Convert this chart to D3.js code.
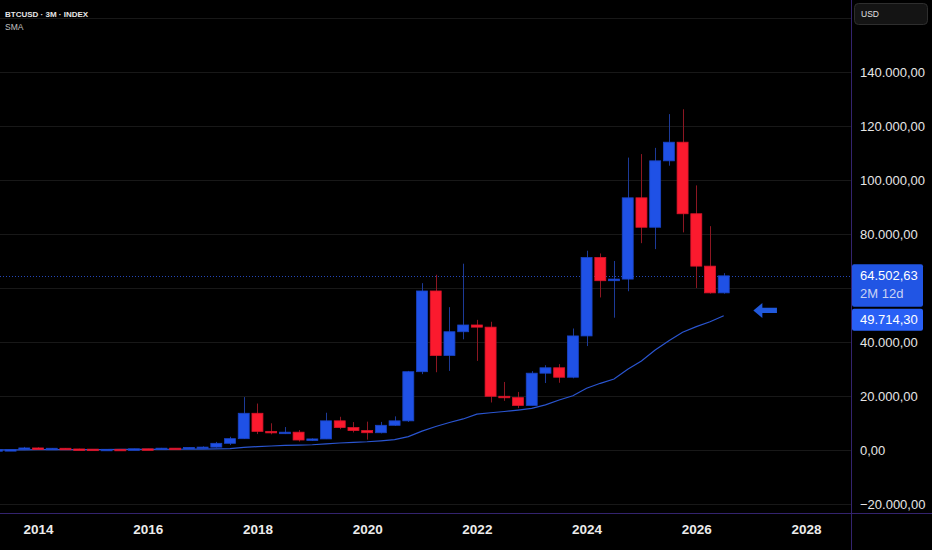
<!DOCTYPE html>
<html lang="en">
<head>
<meta charset="utf-8">
<title>BTCUSD 3M</title>
<script src="https://cdn.jsdelivr.net/npm/d3@7"></script>
<style>
  html, body { margin: 0; padding: 0; background: #000; }
  svg { display: block; font-family: "Liberation Sans", Arial, sans-serif; }
</style>
</head>
<body>
<script>
// quarterly candles
var quarters = [
  "2013-Q2","2013-Q3","2013-Q4",
  "2014-Q1","2014-Q2","2014-Q3","2014-Q4",
  "2015-Q1","2015-Q2","2015-Q3","2015-Q4",
  "2016-Q1","2016-Q2","2016-Q3","2016-Q4",
  "2017-Q1","2017-Q2","2017-Q3","2017-Q4",
  "2018-Q1","2018-Q2","2018-Q3","2018-Q4",
  "2019-Q1","2019-Q2","2019-Q3","2019-Q4",
  "2020-Q1","2020-Q2","2020-Q3","2020-Q4",
  "2021-Q1","2021-Q2","2021-Q3","2021-Q4",
  "2022-Q1","2022-Q2","2022-Q3","2022-Q4",
  "2023-Q1","2023-Q2","2023-Q3","2023-Q4",
  "2024-Q1","2024-Q2","2024-Q3","2024-Q4",
  "2025-Q1","2025-Q2","2025-Q3","2025-Q4",
  "2026-Q1","2026-Q2","2026-Q3"
]
var opens = [
  94, 97, 141,
  757, 457, 640, 386,
  320, 244, 263, 236,
  430, 416, 673, 609,
  963, 1071, 2480, 4200,
  13600, 6900, 6400, 6600,
  3700, 4100, 10800, 8300,
  7200, 6400, 9150, 10800,
  29000, 58900, 35000, 43800,
  46300, 45500, 19900, 19400,
  16500, 28450, 30450, 26950,
  42250, 71300, 62700, 63300,
  93400, 82500, 107100, 114000,
  87500, 68100, 58200
]
var highs = [
  266, 140, 1150,
  1000, 680, 660, 480,
  320, 266, 318, 504,
  465, 780, 705, 980,
  1350, 3000, 4900, 19600,
  17200, 9900, 8500, 7400,
  4300, 13800, 12300, 10350,
  10500, 10400, 12450, 29300,
  61800, 64900, 52900, 69000,
  48200, 47500, 25200, 21500,
  29200, 31400, 31800, 45000,
  73800, 72800, 70000, 108300,
  109600, 111900, 124400, 126200,
  98000, 82900, 65500
]
var lows = [
  68, 65, 118,
  410, 340, 350, 275,
  165, 216, 198, 236,
  350, 415, 470, 605,
  750, 900, 1830, 4100,
  5900, 5800, 5900, 3150,
  3350, 4050, 7700, 6500,
  3850, 6150, 8900, 10400,
  28100, 28800, 29300, 41000,
  33000, 17600, 18200, 15500,
  16500, 24800, 24900, 26550,
  38500, 56500, 49000, 58800,
  76600, 74400, 105300, 80600,
  60000, 57900, 57900
]
var closes = [
  97, 141, 757,
  457, 640, 386, 320,
  244, 263, 236, 430,
  416, 673, 609, 963,
  1071, 2480, 4200, 13600,
  6900, 6400, 6600, 3700,
  4100, 10800, 8300, 7200,
  6400, 9150, 10800, 29000,
  58900, 35000, 43800, 46300,
  45500, 19900, 19400, 16500,
  28450, 30450, 26950, 42250,
  71300, 62700, 63300, 93400,
  82500, 107100, 114000, 87500,
  68100, 58200, 64502.63
]
// SMA line as drawn
var sma = [
  40, 50, 80,
  110, 130, 150, 165,
  175, 185, 195, 215,
  230, 250, 270, 300,
  330, 400, 520, 1000,
  1250, 1480, 1700, 1830,
  1950, 2300, 2600, 2850,
  3050, 3400, 3850, 4950,
  7000, 8700, 10200, 11500,
  13300, 13800, 14250, 14800,
  15400, 16700, 18500, 20100,
  22850, 24700, 26300, 29900,
  33000, 37000, 40500, 43600,
  45700, 47500, 49714.30
]
var priceTicks = [-20000, 0, 20000, 40000, 60000, 80000, 100000, 120000, 140000, 160000]
// 60k sits under the last-price label, 160k under the currency button
var priceLabels = [-20000, 0, 20000, 40000, 80000, 100000, 120000, 140000]
var yearTicks = [2014, 2016, 2018, 2020, 2022, 2024, 2026, 2028]
var countdown = "2M 12d"
var arrowAnno = { tail: 2027.47, tip: 2027.04, value: 51700 }

var W = 932, H = 550
var plotR = 851, plotB = 513

var upColor = "#1f51e6", downColor = "#fb1a2e"
var upWick = "#1c3a98", downWick = "#8c1722"

var deLocale = d3.formatLocale({ decimal: ",", thousands: ".", grouping: [3], currency: ["", ""] })
var priceFmt = deLocale.format(",.2f")

var bars = quarters.map(function (q, i) {
  return {
    t: +q.slice(0, 4) + (+q.slice(6) - 1) / 4,
    o: opens[i], h: highs[i], l: lows[i], c: closes[i], s: sma[i]
  }
})

var x = d3.scaleLinear().domain([2013.307, 2028.82]).range([0, plotR])
var y = d3.scaleLinear().domain([-23333, 166667]).range([plotB, 0])
var bw = (x(0.25) - x(0)) * 0.8

var svg = d3.select("body").append("svg")
  .attr("width", W)
  .attr("height", H)

svg.append("rect").attr("width", W).attr("height", H).attr("fill", "#000")

svg.append("clipPath").attr("id", "plot")
  .append("rect").attr("width", plotR).attr("height", plotB)

// horizontal grid
svg.append("g").selectAll("line")
  .data(priceTicks)
  .enter().append("line")
  .attr("x1", 0).attr("x2", plotR)
  .attr("y1", function (d) { return Math.round(y(d)) + 0.5 })
  .attr("y2", function (d) { return Math.round(y(d)) + 0.5 })
  .attr("stroke", "#181818")

var plot = svg.append("g").attr("clip-path", "url(#plot)")

var last = bars[bars.length - 1]

// last price dotted line
plot.append("line")
  .attr("x1", 0).attr("x2", plotR)
  .attr("y1", Math.round(y(last.c)) + 0.5)
  .attr("y2", Math.round(y(last.c)) + 0.5)
  .attr("stroke", "#2447b8")
  .attr("stroke-dasharray", "1,2")

// SMA
plot.append("path")
  .datum(bars)
  .attr("fill", "none")
  .attr("stroke", "#2a55d0")
  .attr("stroke-width", 1.2)
  .attr("d", d3.line().x(function (d) { return x(d.t) }).y(function (d) { return y(d.s) }))

// wicks
plot.selectAll("line.wick")
  .data(bars)
  .enter().append("line")
  .attr("class", "wick")
  .attr("x1", function (d) { return Math.round(x(d.t)) + 0.5 })
  .attr("x2", function (d) { return Math.round(x(d.t)) + 0.5 })
  .attr("y1", function (d) { return y(d.h) })
  .attr("y2", function (d) { return y(d.l) })
  .attr("stroke", function (d) { return d.c >= d.o ? upWick : downWick })

// bodies
plot.selectAll("rect.body")
  .data(bars)
  .enter().append("rect")
  .attr("class", "body")
  .attr("x", function (d) { return x(d.t) - bw / 2 })
  .attr("width", bw)
  .attr("y", function (d) { return y(Math.max(d.o, d.c)) })
  .attr("height", function (d) { return Math.max(1.5, Math.abs(y(d.o) - y(d.c))) })
  .attr("fill", function (d) { return d.c >= d.o ? upColor : downColor })
  .attr("stroke", function (d) { return d.c >= d.o ? "#1a44c4" : "#d9142a" })
  .attr("stroke-width", 0.8)

// arrow annotation
var ax0 = x(arrowAnno.tip), ax1 = x(arrowAnno.tail), ay = y(arrowAnno.value)
svg.append("polygon")
  .attr("points", [
    [ax0, ay], [ax0 + 9, ay - 7.5], [ax0 + 9, ay - 2.6], [ax1, ay - 2.6],
    [ax1, ay + 2.6], [ax0 + 9, ay + 2.6], [ax0 + 9, ay + 7.5]
  ].map(function (p) { return p.join(",") }).join(" "))
  .attr("fill", "#2159dc")

// frame
svg.append("line").attr("x1", plotR + 0.5).attr("x2", plotR + 0.5).attr("y1", 0).attr("y2", H)
  .attr("stroke", "#33236e")
svg.append("line").attr("x1", 0).attr("x2", W).attr("y1", plotB + 0.5).attr("y2", plotB + 0.5)
  .attr("stroke", "#33236e")

// price axis
var yAxis = svg.append("g")
  .attr("transform", "translate(" + plotR + ",0)")
  .call(d3.axisRight(y)
    .tickValues(priceLabels)
    .tickFormat(priceFmt)
    .tickSize(0)
    .tickPadding(9))
yAxis.select(".domain").remove()
yAxis.selectAll("text")
  .attr("fill", "#e6e6e6")
  .style("font-size", "13px")
  .style("font-family", "'Liberation Sans', Arial, sans-serif")

// time axis
var xAxis = svg.append("g")
  .attr("transform", "translate(0," + plotB + ")")
  .call(d3.axisBottom(x)
    .tickValues(yearTicks)
    .tickFormat(d3.format("d"))
    .tickSize(0)
    .tickPadding(11))
xAxis.select(".domain").remove()
xAxis.selectAll("text")
  .attr("fill", "#ececec")
  .style("font-size", "13.5px")
  .style("font-weight", "bold")
  .style("font-family", "'Liberation Sans', Arial, sans-serif")

// price labels on the axis
var boxX = plotR + 1, boxW = 71
var pTop = y(last.c) - 11.5
svg.append("rect").attr("x", boxX).attr("y", pTop).attr("width", boxW).attr("height", 42.5)
  .attr("rx", 2).attr("fill", "#2155e4")
svg.append("text").attr("x", boxX + 8).attr("y", y(last.c) + 4.5)
  .attr("fill", "#ffffff").style("font-size", "13px").text(priceFmt(last.c))
svg.append("text").attr("x", boxX + 8).attr("y", y(last.c) + 22)
  .attr("fill", "#c9d3f5").style("font-size", "13px").text(countdown)

var sTop = pTop + 42.5 + 2
svg.append("rect").attr("x", boxX).attr("y", sTop).attr("width", boxW).attr("height", 22)
  .attr("rx", 2).attr("fill", "#2960f5")
svg.append("text").attr("x", boxX + 8).attr("y", sTop + 15.5)
  .attr("fill", "#ffffff").style("font-size", "13px").text(priceFmt(last.s))

// currency button
svg.append("rect").attr("x", 854.5).attr("y", 3.5).attr("width", 73).attr("height", 21)
  .attr("rx", 4).attr("fill", "#141414").attr("stroke", "#2e2e2e")
svg.append("text").attr("x", 861).attr("y", 17)
  .attr("fill", "#e0e0e0").style("font-size", "8.5px").text("USD")

// legend
svg.append("text").attr("x", 5).attr("y", 17)
  .attr("fill", "#e6e6e6").style("font-size", "8px").style("font-weight", "bold")
  .text("BTCUSD · 3M · INDEX")
svg.append("text").attr("x", 5).attr("y", 30)
  .attr("fill", "#c0c0c0").style("font-size", "8.5px")
  .text("SMA")
</script>
</body>
</html>
